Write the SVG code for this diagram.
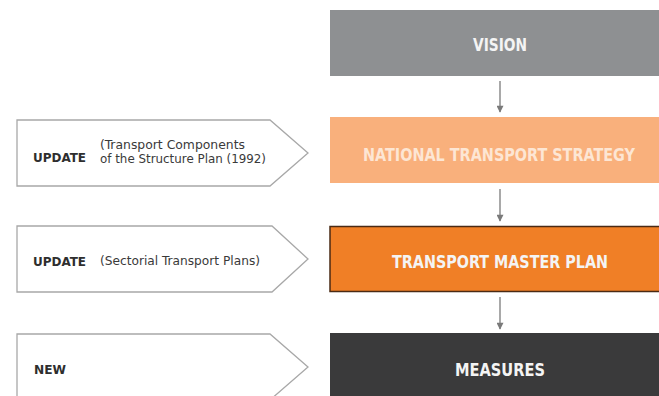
<svg xmlns="http://www.w3.org/2000/svg" width="659" height="396" viewBox="0 0 659 396">
<style>
.t{font-family:"DejaVu Sans","Liberation Sans",sans-serif;font-stretch:condensed;}
.box{font-weight:bold;font-size:17px;text-anchor:middle;fill:#f4f4f4;}
.tag{font-weight:bold;font-size:13px;fill:#2e2e2e;}
.note{font-size:12.5px;fill:#3a3a3a;}
.pent{fill:#fff;stroke:#a8a8a8;stroke-width:1.3;}
.conn{stroke:#7a7a7a;stroke-width:1.3;fill:none;}
</style>
<defs>
<marker id="ah" viewBox="0 0 10 10" refX="9" refY="5" markerWidth="9" markerHeight="7" markerUnits="userSpaceOnUse" orient="auto">
<path d="M0,0 L10,5 L0,10 z" fill="#7a7a7a"/>
</marker>
</defs>
<rect width="659" height="396" fill="#fff"/>
<g id="vision"><rect x="330" y="10" width="329" height="66" fill="#8e9092"/><text class="t box" x="500" y="51" textLength="54" lengthAdjust="spacingAndGlyphs">VISION</text></g>
<g id="nts"><rect x="330" y="117" width="329" height="66" fill="#f9b07c"/><text class="t box" x="499" y="161" style="fill:#fde6d4" textLength="272" lengthAdjust="spacingAndGlyphs">NATIONAL TRANSPORT STRATEGY</text></g>
<g id="tmp"><rect x="330" y="226.5" width="330" height="65" fill="#f07f26" stroke="#4a2a14" stroke-width="1.5"/><text class="t box" x="500" y="268" textLength="216" lengthAdjust="spacingAndGlyphs">TRANSPORT MASTER PLAN</text></g>
<g id="measures"><rect x="330" y="333" width="329" height="63" fill="#3a3a3b"/><text class="t box" x="500" y="376" textLength="90" lengthAdjust="spacingAndGlyphs">MEASURES</text></g>
<g id="update1"><path class="pent" d="M17,120 H270 L308,153 L270,186 H17 Z"/><text class="t tag" x="33" y="162" textLength="53" lengthAdjust="spacingAndGlyphs">UPDATE</text><text class="t note" x="100" y="149" textLength="145" lengthAdjust="spacingAndGlyphs">(Transport Components</text><text class="t note" x="100" y="163" textLength="166" lengthAdjust="spacingAndGlyphs">of the Structure Plan (1992)</text></g>
<g id="update2"><path class="pent" d="M17,226 H272 L308,259 L272,292 H17 Z"/><text class="t tag" x="33" y="266" textLength="53" lengthAdjust="spacingAndGlyphs">UPDATE</text><text class="t note" x="100" y="265" textLength="160" lengthAdjust="spacingAndGlyphs">(Sectorial Transport Plans)</text></g>
<g id="new"><path class="pent" d="M17,334 H270 L308,367 L270,400 H17 Z"/><text class="t tag" x="34" y="374" textLength="32" lengthAdjust="spacingAndGlyphs">NEW</text></g>
<g id="connectors">
<line class="conn" x1="500" y1="81" x2="500" y2="112" marker-end="url(#ah)"/>
<line class="conn" x1="500" y1="189" x2="500" y2="221" marker-end="url(#ah)"/>
<line class="conn" x1="500" y1="297" x2="500" y2="329" marker-end="url(#ah)"/>
</g>
</svg>
